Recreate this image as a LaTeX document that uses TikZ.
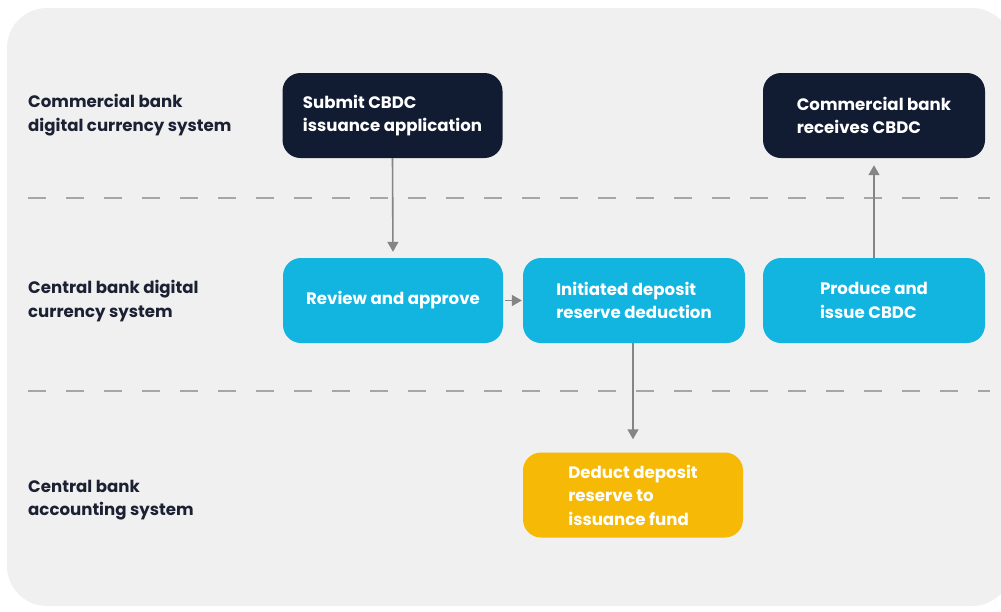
\documentclass[tikz,border=0pt]{standalone}
\usepackage{fontspec}
\setmainfont{Poppins}
\usetikzlibrary{arrows.meta}
\definecolor{bgpanel}{HTML}{F0F0F0}
\definecolor{navy}{HTML}{111B32}
\definecolor{cyanbox}{HTML}{12B4E0}
\definecolor{amber}{HTML}{F6BA06}
\definecolor{arrowgray}{HTML}{858585}
\definecolor{dashgray}{HTML}{A6A6A6}
\definecolor{labelink}{HTML}{1C2033}
\tikzset{
  stepbox/.style={rounded corners=18pt, minimum width=220pt, minimum height=85pt,
    text=white, font=\fontsize{16.6}{23.5}\selectfont\bfseries, align=left, inner sep=0pt},
  darkbox/.style={stepbox, fill=navy},
  bluebox/.style={stepbox, fill=cyanbox},
  yellowbox/.style={stepbox, fill=amber},
  lanelabel/.style={anchor=west, align=left, text=labelink,
    font=\fontsize{16.6}{23.5}\selectfont\bfseries, inner sep=0pt},
  flow/.style={draw=arrowgray, line width=1.6pt, -{Triangle[width=11pt,length=10pt]}},
  lanesep/.style={draw=dashgray, line width=1.8pt, dash pattern=on 18pt off 20pt}
}
\begin{document}
\begin{tikzpicture}[x=1pt,y=-1pt]
\useasboundingbox (0,0) rectangle (1001,611);
\fill[white] (0,0) rectangle (1001,611);
\fill[bgpanel, rounded corners=40pt] (7,8) rectangle (1012,606);
% lane separators
\coordinate (d1a) at (28,198); \coordinate (d1b) at (990,198);
\coordinate (d2a) at (28,391); \coordinate (d2b) at (990,391);
\draw[lanesep] (d1a) -- (d1b);
\draw[lanesep] (d2a) -- (d2b);
% lane labels
\node[lanelabel] (l1) at (28,115) {Commercial bank\\digital currency system};
\node[lanelabel] (l2) at (28,301) {Central bank digital\\currency system};
\node[lanelabel] (l3) at (28,500) {Central bank\\accounting system};
% boxes
\node[darkbox] (submit) at (392.5,115.5) {Submit CBDC\\issuance application};
\node[darkbox, minimum width=222pt] (receive) at (874,115.5) {Commercial bank\\receives CBDC};
\node[bluebox] (review) at (393,300.5) {Review and approve};
\node[bluebox, minimum width=222pt] (initiate) at (634,300.5) {Initiated deposit\\reserve deduction};
\node[bluebox, minimum width=222pt] (produce) at (874,300.5) {Produce and\\issue CBDC};
\node[yellowbox] (deduct) at (633,495) {Deduct deposit\\reserve to\\issuance fund};
% connectors
\draw[flow, shorten >=6pt] (submit.south) -- (review.north);
\draw[flow, shorten <=2pt, shorten >=1pt] (review.east) -- (initiate.west);
\draw[flow, shorten >=13pt] (initiate.south -| deduct.north) -- (deduct.north);
\draw[flow, shorten >=7pt] (produce.north) -- (receive.south);
\end{tikzpicture}
\end{document}
